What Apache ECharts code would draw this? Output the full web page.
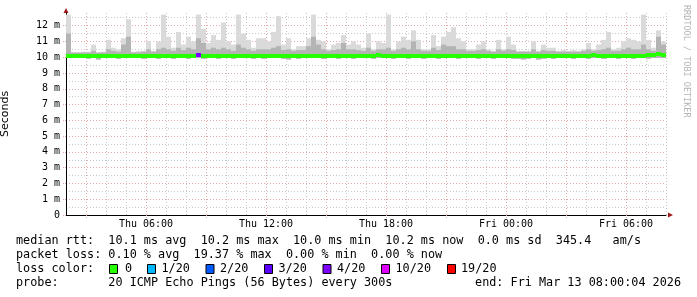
<!DOCTYPE html>
<html><head><meta charset="utf-8">
<script src="https://cdn.jsdelivr.net/npm/echarts@6/dist/echarts.min.js"></script>
<style>html,body{margin:0;padding:0;background:#fff}#c{width:697px;height:297px}</style>
</head><body><div id="c"></div>
<script>
// time axis: hours since Thu 00:00; samples every 15 minutes from Thu 02:00 to Fri 08:00
const startHour = 2;
const endHour = 32;
const stepHours = 0.25;

const smokeHi = [
 12.7,10.3,10.3,10.35,10.35,10.8,10.3,10.35,11.1,10.6,
 10.5,11.2,12.4,10.35,10.4,10.4,11.0,10.4,11.0,12.7,
 11.3,10.6,11.6,10.8,11.3,11.0,12.7,11.8,10.9,11.4,
 11.1,12.2,11.0,10.8,12.7,11.5,11.1,10.6,11.2,11.2,
 11.0,11.6,12.6,10.8,11.2,10.5,10.7,10.7,11.2,12.7,
 11.1,11.0,10.5,10.8,10.9,11.4,10.8,11.0,10.8,10.6,
 11.5,10.5,11.0,10.9,12.7,10.5,11.0,11.3,11.1,11.7,
 11.1,10.5,10.5,11.4,10.7,11.3,11.6,11.9,11.2,11.0,
 10.5,10.5,10.8,11.0,10.5,10.4,11.1,10.5,11.3,10.8,
 10.4,10.4,10.4,11.0,10.4,10.8,10.6,10.6,10.4,10.45,
 10.4,10.45,10.4,10.5,10.9,10.5,10.8,11.1,11.6,10.5,
 10.6,11.0,11.2,11.1,11.0,12.7,11.1,10.6,11.7,11.0
];
const smokeMid = [
 11.5,10.3,10.3,10.3,10.3,10.4,10.3,10.3,10.5,10.4,
 10.35,10.8,11.3,10.3,10.3,10.35,10.5,10.35,10.5,10.6,
 10.5,10.4,10.6,10.45,10.6,10.5,11.2,10.9,10.5,10.6,
 10.5,10.6,10.5,10.4,10.8,10.6,10.5,10.4,10.5,10.5,
 10.5,10.6,10.7,10.45,10.5,10.4,10.45,10.45,10.7,11.3,
 10.8,10.5,10.4,10.45,10.5,10.9,10.5,10.5,10.45,10.4,
 10.6,10.4,10.5,10.5,10.6,10.4,10.5,10.6,10.5,11.0,
 10.5,10.4,10.4,10.6,10.45,10.8,10.7,10.7,10.5,10.5,
 10.4,10.4,10.45,10.5,10.4,10.35,10.5,10.4,10.5,10.45,
 10.35,10.35,10.35,10.5,10.35,10.45,10.4,10.4,10.35,10.35,
 10.35,10.35,10.35,10.4,10.5,10.4,10.45,10.5,10.6,10.4,
 10.4,10.5,10.6,10.5,10.5,10.8,10.5,10.4,11.3,10.8
];
const smokeLo = [
 9.95,9.95,9.95,9.95,9.9,9.95,9.85,9.95,9.95,9.95,
 9.9,9.95,9.95,9.95,9.95,9.9,9.95,9.95,9.9,9.95,
 9.95,9.9,9.95,9.95,9.9,9.95,9.95,9.9,9.95,9.95,
 9.9,9.95,9.95,9.9,9.95,9.95,9.95,9.9,9.95,9.9,
 9.95,9.95,9.95,9.9,9.85,9.95,9.9,9.95,9.95,9.95,
 9.95,9.9,9.95,9.95,9.9,9.95,9.95,9.9,9.95,9.95,
 9.95,9.9,9.95,9.95,9.95,9.9,9.95,9.95,9.9,9.95,
 9.95,9.9,9.95,9.95,9.9,9.95,9.95,9.95,9.9,9.95,
 9.95,9.95,9.9,9.95,9.95,9.9,9.95,9.95,9.95,9.9,
 9.9,9.85,9.9,9.95,9.85,9.9,9.95,9.9,9.95,9.95,
 9.95,9.9,9.95,9.95,9.9,9.95,9.95,9.9,9.95,9.95,
 9.9,9.95,9.95,9.9,9.95,9.95,9.9,9.95,9.95,9.95
];
const medianRtt = [
 10.1,10.1,10.1,10.1,10.1,10.1,10.05,10.1,10.1,10.1,
 10.1,10.1,10.1,10.1,10.1,10.1,10.1,10.1,10.1,10.1,
 10.1,10.1,10.1,10.1,10.1,10.1,10.15,10.1,10.1,10.1,
 10.1,10.1,10.1,10.1,10.1,10.1,10.1,10.1,10.1,10.1,
 10.1,10.1,10.1,10.1,10.05,10.1,10.1,10.1,10.1,10.1,
 10.1,10.1,10.1,10.1,10.1,10.1,10.1,10.1,10.1,10.1,
 10.1,10.1,10.15,10.1,10.1,10.1,10.1,10.1,10.1,10.1,
 10.1,10.1,10.1,10.1,10.1,10.1,10.1,10.1,10.1,10.1,
 10.1,10.1,10.1,10.1,10.1,10.1,10.1,10.1,10.1,10.1,
 10.1,10.1,10.05,10.1,10.05,10.1,10.1,10.1,10.1,10.1,
 10.1,10.1,10.1,10.1,10.1,10.15,10.1,10.1,10.1,10.1,
 10.1,10.1,10.1,10.1,10.1,10.1,10.15,10.15,10.2,10.15
];
const lossIndex = [
 0,0,0,0,0,0,0,0,0,0, 0,0,0,0,0,0,0,0,0,0,
 0,0,0,0,0,0,4,0,0,0, 0,0,0,0,0,0,0,0,0,0,
 0,0,0,0,0,0,0,0,0,0, 0,0,0,0,0,0,0,0,0,0,
 0,0,0,0,0,0,0,0,0,0, 0,0,0,0,0,0,0,0,0,0,
 0,0,0,0,0,0,0,0,0,0, 0,0,0,0,0,0,0,0,0,0,
 0,0,0,0,0,0,0,0,0,0, 0,0,0,0,0,0,0,0,0,0
];

const lossLabels = ['0','1/20','2/20','3/20','4/20','10/20','19/20'];
const lossColors = ['#26ff00','#00b8ff','#0059ff','#5e00ff','#7e00ff','#dd00ff','#ff0000'];

const xLabelHours = [6,12,18,24,30];
const xLabelText = ['Thu 06:00','Thu 12:00','Thu 18:00','Fri 00:00','Fri 06:00'];
const xMajorHours = [3,6,9,12,15,18,21,24,27,30];
const xMinorHours = [3,4,5,6,7,8,9,10,11,12,13,14,15,16,17,18,19,20,21,22,23,24,25,26,27,28,29,30,31,32].filter(h => xMajorHours.indexOf(h) < 0);
const yMajor = [0,1,2,3,4,5,6,7,8,9,10,11,12];
const yMinor = [0.5,1.5,2.5,3.5,4.5,5.5,6.5,7.5,8.5,9.5,10.5,11.5,12.5];
const yMax = 12.8;

const statLines = [
 'median rtt:  10.1 ms avg  10.2 ms max  10.0 ms min  10.2 ms now  0.0 ms sd  345.4   am/s',
 'packet loss: 0.10 % avg  19.37 % max  0.00 % min  0.00 % now',
 'loss color:',
 'probe:       20 ICMP Echo Pings (56 Bytes) every 300s'
];
const endText = 'end: Fri Mar 13 08:00:04 2026';
const watermark = 'RRDTOOL / TOBI OETIKER';

const seriesData = smokeHi.map((h, i) => [startHour + (i + 1) * stepHours, smokeLo[i], smokeMid[i], h, medianRtt[i], lossIndex[i]]);

const MONO = 'DejaVu Sans Mono';
const majorColor = '#e2a8a8';
const minorColor = '#c8c8c8';

const chart = echarts.init(document.getElementById('c'), null, {renderer: 'canvas'});

const graphics = [];
const lineY = [241, 255, 269, 283];
statLines.forEach((t, k) => {
  graphics.push({type: 'text', x: 16, y: lineY[k], style: {text: t, font: '11.8px "' + MONO + '"', fill: '#000', textVerticalAlign: 'middle'}});
});
graphics.push({type: 'text', x: 681, y: lineY[3], style: {text: endText, font: '11.8px "' + MONO + '"', fill: '#000', textAlign: 'right', textVerticalAlign: 'middle'}});
const boxX = [109, 147, 205.5, 264, 322.5, 381, 447];
const boxTextX = [125, 161.5, 220, 278.5, 337, 395.5, 461];
lossLabels.forEach((lab, k) => {
  graphics.push({type: 'rect', shape: {x: boxX[k] + 0.5, y: 264.5, width: 8, height: 9}, style: {fill: lossColors[k], stroke: '#000', lineWidth: 1}});
  graphics.push({type: 'text', x: boxTextX[k], y: lineY[2], style: {text: lab, font: '11.8px "' + MONO + '"', fill: '#000', textVerticalAlign: 'middle'}});
});
graphics.push({type: 'text', x: 686, y: 5, rotation: -Math.PI / 2, style: {text: watermark, font: '8.5px "' + MONO + '"', fill: '#b4b4b4', textVerticalAlign: 'middle'}});
// axis arrows
graphics.push({type: 'polygon', shape: {points: [[66, 8], [63.5, 13], [68.5, 13]]}, style: {fill: '#a01818'}});
graphics.push({type: 'polygon', shape: {points: [[673, 215], [668, 212.5], [668, 217.5]]}, style: {fill: '#a01818'}});

const option = {
  animation: false,
  backgroundColor: '#fff',
  grid: {left: 66, right: 31, top: 13, bottom: 82, containLabel: false, outerBoundsMode: 'none'},
  xAxis: [
    {
      type: 'value', min: startHour, max: endHour, position: 'bottom',
      axisLine: {show: true, lineStyle: {color: '#000', width: 1}},
      axisTick: {show: true, length: 3, customValues: xMajorHours, lineStyle: {color: majorColor, type: [1, 1]}},
      axisLabel: {show: true, customValues: xLabelHours, margin: 4,
        formatter: v => xLabelText[xLabelHours.indexOf(v)] || '',
        fontFamily: MONO, fontSize: 10, color: '#000'},
      splitLine: {show: true, lineStyle: {color: majorColor, type: [1, 2], width: 1}}
    },
    {
      type: 'value', min: startHour, max: endHour, position: 'top',
      axisLine: {show: false}, axisLabel: {show: false},
      axisTick: {show: false, customValues: xMinorHours},
      splitLine: {show: true, lineStyle: {color: minorColor, type: [1, 2], width: 1}}
    }
  ],
  yAxis: [
    {
      type: 'value', min: 0, max: yMax, position: 'left',
      name: 'Seconds', nameLocation: 'middle', nameRotate: 90, nameGap: 55,
      nameTextStyle: {fontFamily: 'DejaVu Sans', fontSize: 11, color: '#000'},
      axisLine: {show: true, lineStyle: {color: '#000', width: 1}},
      axisTick: {show: true, length: 3, customValues: yMajor, lineStyle: {color: majorColor, type: [1, 1]}},
      axisLabel: {show: true, customValues: yMajor, margin: 6,
        formatter: v => v === 0 ? '0' : v + ' m',
        fontFamily: MONO, fontSize: 10, color: '#000'},
      splitLine: {show: true, lineStyle: {color: majorColor, type: [1, 2], width: 1}}
    },
    {
      type: 'value', min: 0, max: yMax, position: 'right',
      axisLine: {show: false}, axisLabel: {show: false},
      axisTick: {show: false, customValues: yMinor},
      splitLine: {show: true, lineStyle: {color: minorColor, type: [1, 2], width: 1}}
    }
  ],
  series: [{
    type: 'custom',
    xAxisIndex: 0, yAxisIndex: 0,
    clip: true,
    data: seriesData,
    encode: {x: 0, y: [1, 2, 3, 4]},
    renderItem: function (params, api) {
      const t1 = api.value(0), t0 = t1 - stepHours;
      const lo = api.value(1), mid = api.value(2), hi = api.value(3), med = api.value(4), loss = api.value(5);
      const pHi = api.coord([t0, hi]);
      const pMid = api.coord([t0, mid]);
      const pLo = api.coord([t1, lo]);
      const pMed0 = api.coord([t0, med]);
      const pMed1 = api.coord([t1, med]);
      const w = pLo[0] - pHi[0];
      return {
        type: 'group',
        children: [
          {type: 'rect', shape: {x: pHi[0], y: pHi[1], width: w, height: pLo[1] - pHi[1]}, style: {fill: '#dadada'}},
          {type: 'rect', shape: {x: pMid[0], y: pMid[1], width: w, height: pLo[1] - pMid[1]}, style: {fill: '#b4b4b4'}},
          {type: 'rect', shape: {x: pMed0[0], y: Math.round(pMed0[1]) - 2, width: pMed1[0] - pMed0[0], height: 4}, style: {fill: lossColors[loss]}}
        ]
      };
    }
  }],
  graphic: graphics
};
chart.setOption(option);
</script>
</body></html>
